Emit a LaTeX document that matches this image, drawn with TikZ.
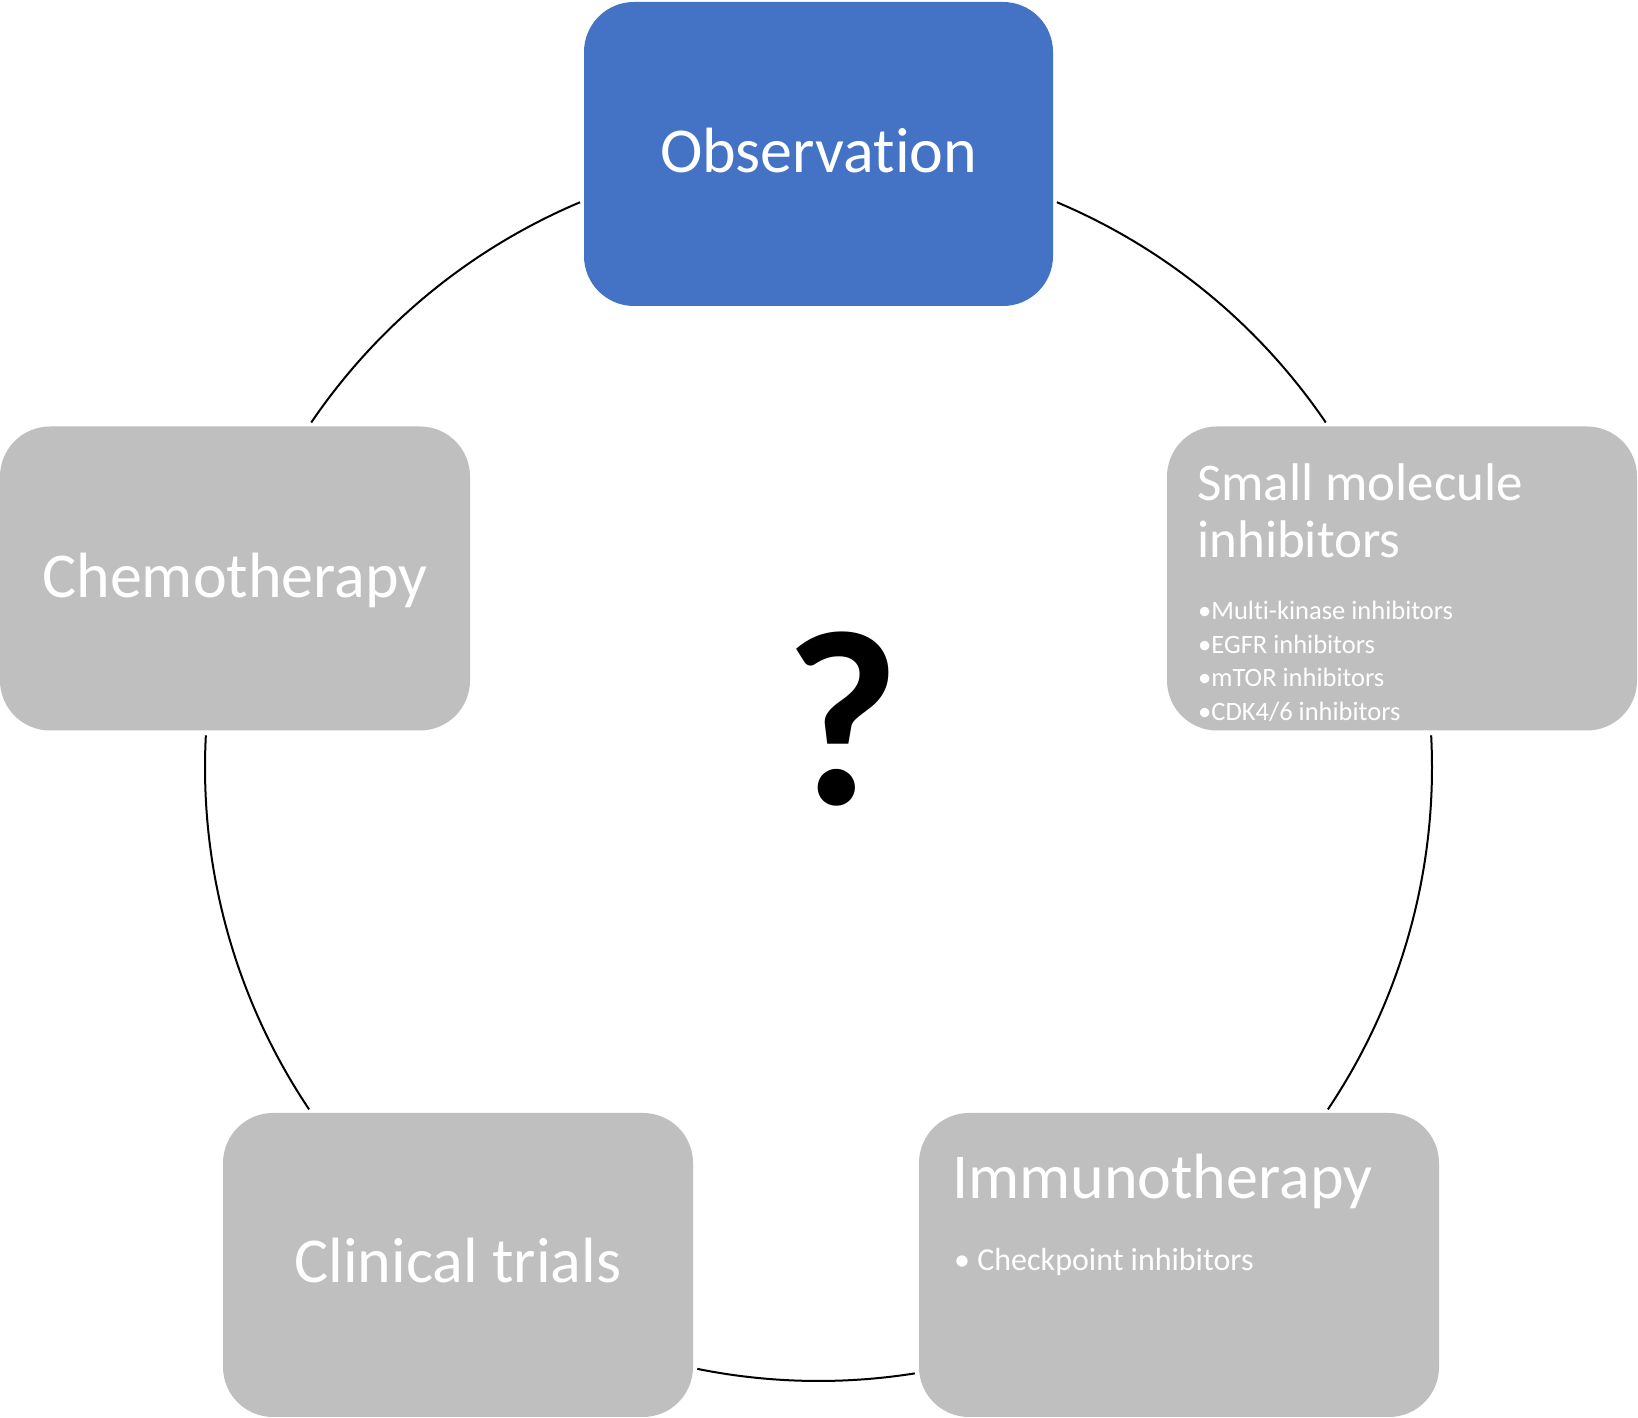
\documentclass[tikz,border=0pt]{standalone}
\usepackage{fontspec}
\setmainfont{Carlito}[Ligatures=NoCommon]
\definecolor{obsblue}{HTML}{4472C4}
\definecolor{boxgray}{HTML}{BFBFBF}
\tikzset{
  box/.style={rectangle, rounded corners=50pt, minimum height=304pt, inner sep=0pt, fill=boxgray, draw=none},
  bigtext/.style={text=white, inner sep=0pt, font=\fontsize{64}{77}\selectfont},
  midtext/.style={text=white, inner sep=0pt, anchor=base west, font=\fontsize{53}{57}\selectfont},
  smalltext/.style={text=white, inner sep=0pt, anchor=base west, font=\fontsize{26.5}{30}\selectfont},
  bullettext/.style={text=white, inner sep=0pt, anchor=base west, font=\fontsize{32}{38}\selectfont},
  conn/.style={draw=black, line width=2pt},
}
\begin{document}
\begin{tikzpicture}[x=1pt, y=1pt]
\path[use as bounding box, fill=white] (0,0) rectangle (1638,1418);
\coordinate (ctr) at (818.5,650.5);

% connectors (arcs of the cycle)
\draw[conn] ([shift={(67.13:613.5pt)}]ctr) arc[start angle=67.13, end angle=34.22, radius=613.5pt];
\draw[conn] ([shift={(3.01:613.5pt)}]ctr) arc[start angle=3.01, end angle=-33.87, radius=613.5pt];
\draw[conn] ([shift={(-80.97:613.5pt)}]ctr) arc[start angle=-80.97, end angle=-101.4, radius=613.5pt];
\draw[conn] ([shift={(213.87:613.5pt)}]ctr) arc[start angle=213.87, end angle=176.99, radius=613.5pt];
\draw[conn] ([shift={(145.78:613.5pt)}]ctr) arc[start angle=145.78, end angle=112.87, radius=613.5pt];

% boxes
\node[box, fill=obsblue, minimum width=469pt] (obs) at (818.5,1264) {};
\node[box, minimum width=470pt] (chemo) at (235,839.5) {};
\node[box, minimum width=470pt] (small) at (1402,839.5) {};
\node[box, minimum width=470pt] (clin) at (458,153) {};
\node[box, minimum width=520pt] (immuno) at (1179,153) {};

% texts
\node[bigtext, anchor=base] (obsT) at (818.5,1245) {Observation};
\node[bigtext, anchor=base] (chemoT) at (235,820) {Chemotherapy};
\node[bigtext, anchor=base] (clinT) at (458,135) {Clinical trials};

\node[midtext] (smallT1) at (1197,917) {Small molecule};
\node[midtext] (smallT2) at (1197,860) {inhibitors};
\node[smalltext] (sb1) at (1198,798) {•Multi-kinase inhibitors};
\node[smalltext] (sb2) at (1198,764) {•EGFR inhibitors};
\node[smalltext] (sb3) at (1198,731) {•mTOR inhibitors};
\node[smalltext] (sb4) at (1198,697) {•CDK4/6 inhibitors};

\node[bigtext, anchor=base west] (immunoT) at (952,219) {Immunotherapy};
\node[bullettext] (ib1) at (954,147) {• Checkpoint inhibitors};

\node[inner sep=0pt, anchor=base, font=\fontsize{250}{290}\selectfont\bfseries] (q) at (842,613) {?};
\end{tikzpicture}
\end{document}
